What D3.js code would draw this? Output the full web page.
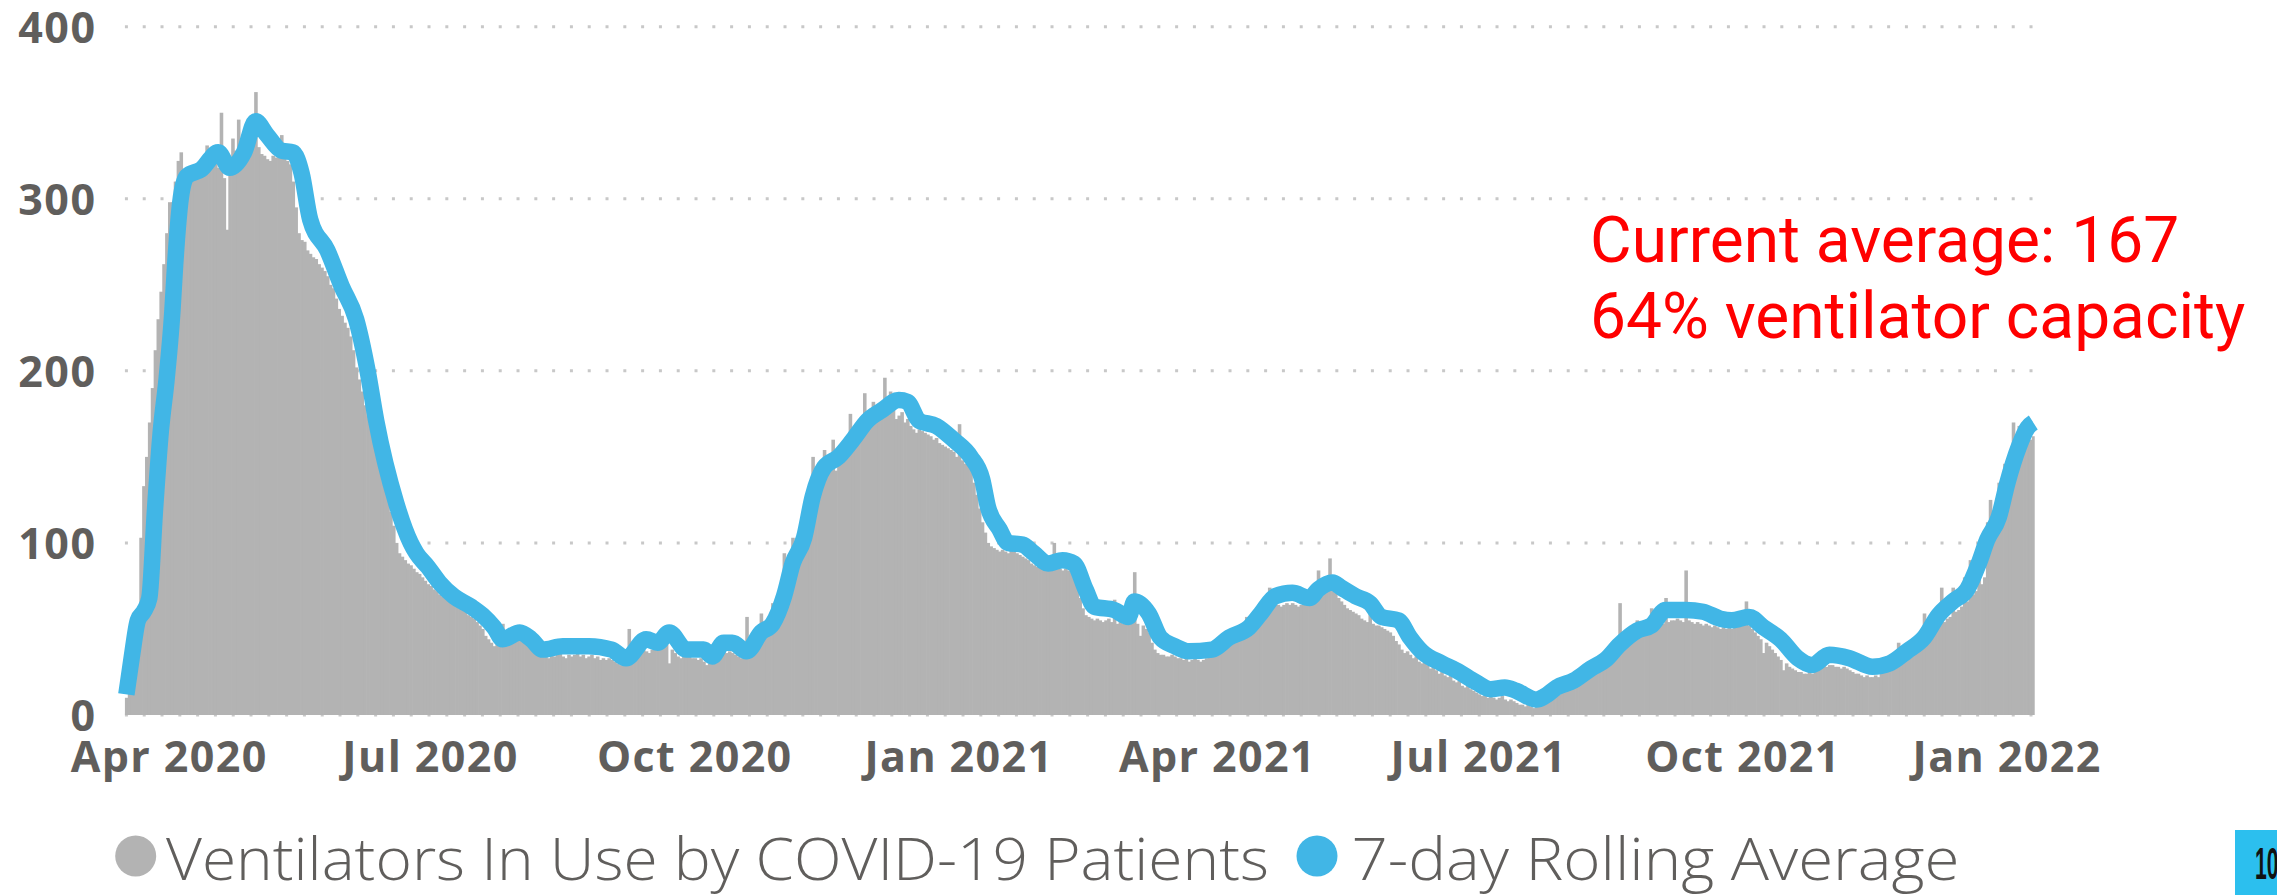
<!DOCTYPE html>
<html><head><meta charset="utf-8">
<script src="https://cdn.jsdelivr.net/npm/d3@7"></script>
<style>
html,body{margin:0;padding:0;background:#fff;overflow:hidden;}
svg{display:block;}
</style></head><body>
<svg id="chart" width="2277" height="895"></svg>
<script>
// ---------------- DATA ----------------
const startDate = "2020-03-17";   // first daily bar
const ventilatorsInUse = [
  // Mar 2020 (17-31)
  10,15,51,55,60,103,133,150,170,190,212,230,246,262,280,
  // Apr 2020
  298,298,310,322,327,308,312,313,315,312,316,314,318,331,318,320,322,318,350,312,282,322,335,328,346,330,328,333,338,335,
  // May 2020
  362,330,326,325,323,322,325,324,326,337,325,322,320,310,295,280,276,275,270,268,266,265,262,260,258,255,250,248,242,236,232,
  // Jun 2020
  228,225,220,212,202,195,188,180,174,168,160,152,145,140,133,125,118,110,100,94,92,90,88,87,85,83,82,80,78,76,
  // Jul 2020
  75,73,72,70,69,68,70,66,64,63,62,61,60,58,57,56,54,52,50,46,44,42,40,42,44,53,44,45,43,46,45,
  // Aug 2020
  45,44,42,41,38,37,35,34,35,34,33,35,34,35,36,34,33,35,34,35,36,34,35,33,34,35,33,34,32,33,32,
  // Sep 2020
  33,32,31,30,29,31,33,50,36,38,39,40,38,37,36,38,40,42,43,42,41,30,38,36,34,33,34,35,34,33,
  // Oct 2020
  33,32,33,31,29,30,33,35,36,37,38,36,37,36,35,34,33,34,57,36,40,42,44,59,45,47,50,65,62,68,75,
  // Nov 2020
  94,70,78,103,86,90,95,100,125,112,150,125,130,134,154,140,142,160,142,145,147,150,152,175,155,157,160,162,187,166,
  // Dec 2020
  178,182,176,174,175,196,176,188,178,172,174,176,170,172,168,166,164,166,165,164,163,162,160,161,158,157,156,155,154,153,150,
  // Jan 2021
  169,148,146,145,143,135,128,120,112,106,100,98,97,96,95,96,95,94,96,95,94,93,92,91,90,88,87,86,86,85,85,
  // Feb 2021
  86,87,100,86,85,84,85,84,83,80,75,68,62,58,57,56,55,56,55,54,55,56,54,67,53,54,53,54,
  // Mar 2021
  55,54,83,53,46,52,50,48,42,38,36,35,35,34,34,35,34,33,33,32,33,31,32,33,32,31,32,33,34,36,38,
  // Apr 2021
  39,40,42,43,44,45,46,48,50,52,57,53,55,56,58,65,62,63,74,64,65,64,63,64,65,64,65,64,63,64,
  // May 2021
  65,66,67,68,69,84,70,71,72,91,72,71,68,66,64,62,61,60,59,58,56,55,54,62,53,52,52,51,50,49,48,
  // Jun 2021
  46,43,41,38,36,37,35,33,34,31,30,31,29,27,28,26,24,25,23,22,23,20,19,20,17,16,17,15,14,13,
  // Jul 2021
  12,11,12,10,11,10,9,10,11,9,8,9,8,7,6,6,5,6,5,4,5,6,7,8,9,10,11,21,12,13,14,
  // Aug 2021
  15,16,17,18,19,20,21,22,24,25,26,27,28,29,31,33,35,38,65,42,44,45,46,47,55,48,49,50,51,62,53,
  // Sep 2021
  50,52,53,68,54,55,55,56,55,54,84,55,54,53,54,53,52,53,52,51,52,51,50,51,50,51,50,51,52,52,
  // Oct 2021
  53,66,52,50,48,46,44,36,42,40,38,36,34,32,26,30,28,27,26,25,25,24,24,25,24,26,27,28,29,28,29,
  // Nov 2021
  29,28,28,27,28,27,26,25,24,24,23,22,23,22,22,23,22,24,25,26,27,28,30,42,31,33,34,35,36,38,
  // Dec 2021
  40,42,59,44,46,48,50,52,74,54,56,57,74,60,61,63,80,66,90,70,72,100,76,80,112,125,100,106,135,118,146,
  // Jan 2022 (1-10)
  127,132,170,145,168,152,156,158,160,162
];

const avgDates = [
  "2020-03-17","2020-03-19","2020-03-21","2020-03-23","2020-03-25","2020-03-27","2020-03-29","2020-03-31","2020-04-02","2020-04-03",
  "2020-04-05","2020-04-07","2020-04-12","2020-04-18","2020-04-22","2020-04-27","2020-05-01","2020-05-05","2020-05-10","2020-05-14",
  "2020-05-17","2020-05-20","2020-05-26","2020-05-31","2020-06-05","2020-06-09","2020-06-12","2020-06-19","2020-06-24","2020-06-26",
  "2020-06-30","2020-07-04","2020-07-09","2020-07-15","2020-07-19","2020-07-23","2020-07-26","2020-08-01","2020-08-05","2020-08-09",
  "2020-08-16","2020-08-25","2020-09-02","2020-09-07","2020-09-14","2020-09-18","2020-09-22","2020-09-28","2020-10-04","2020-10-07",
  "2020-10-11","2020-10-14","2020-10-19","2020-10-24","2020-10-28","2020-11-01","2020-11-04","2020-11-08","2020-11-11","2020-11-15",
  "2020-11-20","2020-11-25","2020-11-30","2020-12-05","2020-12-11","2020-12-14","2020-12-18","2020-12-24","2020-12-30","2021-01-05",
  "2021-01-09","2021-01-11","2021-01-15","2021-01-18","2021-01-23","2021-01-27","2021-02-01","2021-02-06","2021-02-10","2021-02-14",
  "2021-02-17","2021-02-24","2021-03-01","2021-03-03","2021-03-08","2021-03-12","2021-03-17","2021-03-22","2021-03-30","2021-04-05",
  "2021-04-12","2021-04-16","2021-04-21","2021-04-27","2021-05-03","2021-05-06","2021-05-11","2021-05-14","2021-05-19","2021-05-24",
  "2021-05-28","2021-06-03","2021-06-07","2021-06-11","2021-06-18","2021-06-23","2021-06-30","2021-07-05","2021-07-10","2021-07-14",
  "2021-07-21","2021-07-24","2021-07-28","2021-08-03","2021-08-09","2021-08-14","2021-08-19","2021-08-25","2021-08-30","2021-09-04",
  "2021-09-11","2021-09-17","2021-09-23","2021-09-27","2021-10-03","2021-10-08","2021-10-14","2021-10-20","2021-10-25","2021-10-31",
  "2021-11-07","2021-11-15","2021-11-21","2021-11-27","2021-12-03","2021-12-08","2021-12-13","2021-12-18","2021-12-22","2021-12-25",
  "2021-12-29","2022-01-01","2022-01-05","2022-01-08","2022-01-10"
];
const avgValues = [
  12,35,55,60,68,120,165,195,234,262,
  301,313,317,327,318,327,345,337,328,327,
  315,288,270,249,230,200,171,123,100,94,
  86,77,69,63,58,51,44,48,44,38,
  40,40,38,33,44,42,48,38,38,34,
  42,42,37,48,53,69,88,103,127,144,
  150,160,171,177,183,182,171,168,160,150,
  137,121,108,100,99,94,88,90,88,73,
  63,61,57,66,59,45,40,37,38,45,
  51,59,69,71,68,73,77,74,69,65,
  57,55,45,37,30,26,19,15,16,14,
  9,11,16,20,27,32,41,49,52,61,
  61,60,56,55,57,51,44,33,29,35,
  33,28,30,37,45,58,66,73,88,102,
  115,135,156,167,170
];

const yTickValues = [0, 100, 200, 300, 400];
const xTickDates = ["2020-04-01","2020-07-01","2020-10-01","2021-01-01","2021-04-01","2021-07-01","2021-10-01","2022-01-01"];
const xTickLabels = ["Apr 2020","Jul 2020","Oct 2020","Jan 2021","Apr 2021","Jul 2021","Oct 2021","Jan 2022"];
const legendLabels = ["Ventilators In Use by COVID-19 Patients", "7-day Rolling Average"];
const annotationLines = ["Current average: 167", "64% ventilator capacity"];
const pageNumber = "10";

// ---------------- CHART ----------------
const parse = d3.utcParse("%Y-%m-%d");
const DAY = 864e5;
const svg = d3.select("#chart");

const x = d3.scaleUtc()
  .domain([parse("2020-04-01"), parse("2022-01-01")])
  .range([168, 2006]);
const y = d3.scaleLinear().domain([0, 400]).range([715, 26.7]);

const start = parse(startDate).getTime();
const bars = ventilatorsInUse.map((v, i) => ({ d0: new Date(start + i * DAY), d1: new Date(start + (i + 1) * DAY), v }));
const plotLeft = x(bars[0].d0);
const plotRight = x(bars[bars.length - 1].d1);

const GRID = "#c8c8c8", LABEL = "#605e5c", BAR = "#b3b3b3", LINE = "#41b6e6";

// gridlines (dotted)
svg.append("g").selectAll("line").data(yTickValues).join("line")
  .attr("x1", plotLeft).attr("x2", plotRight)
  .attr("y1", d => y(d)).attr("y2", d => y(d))
  .attr("stroke", GRID).attr("stroke-width", 3)
  .attr("stroke-dasharray", "3 14.8");

// bars (slight overlap so the area reads as solid)
svg.append("g").selectAll("rect").data(bars).join("rect")
  .attr("x", d => x(d.d0))
  .attr("width", (d, i) => x(d.d1) - x(d.d0) + (i < bars.length - 1 ? 0.7 : 0))
  .attr("y", d => y(d.v))
  .attr("height", d => y(0) - y(d.v))
  .attr("fill", BAR);

// rolling average line
const avg = avgDates.map((s, i) => ({ date: new Date(parse(s).getTime() + DAY / 2), v: avgValues[i] }));
svg.append("path").datum(avg)
  .attr("fill", "none").attr("stroke", LINE).attr("stroke-width", 16.5)
  .attr("stroke-linejoin", "round").attr("stroke-linecap", "butt")
  .attr("d", d3.line().x(d => x(d.date)).y(d => y(d.v)).curve(d3.curveMonotoneX));

// y axis labels
const yAxis = svg.append("g").attr("transform", "translate(96.5,0)")
  .call(d3.axisLeft(y).tickValues(yTickValues).tickSize(0).tickPadding(0).tickFormat(d3.format("d")));
yAxis.select(".domain").remove();
yAxis.selectAll("text")
  .attr("dy", "0.357em")
  .style("font-family", "'Open Sans', sans-serif").style("font-weight", 700)
  .style("font-size", "43px").style("letter-spacing", "1.5px").attr("fill", LABEL);

// x axis labels
const xAxis = svg.append("g").attr("transform", `translate(0,${y(0)})`)
  .call(d3.axisBottom(x).tickValues(xTickDates.map(parse)).tickSize(0).tickPadding(0)
    .tickFormat((d, i) => xTickLabels[i]));
xAxis.select(".domain").remove();
xAxis.selectAll("text")
  .attr("y", 57).attr("dy", "0").attr("x", 0.7)
  .style("font-family", "'Open Sans', sans-serif").style("font-weight", 700)
  .style("font-size", "43px").style("letter-spacing", "1.4px").attr("fill", LABEL);

// legend
const legend = svg.append("g");
const legendItems = [
  { label: legendLabels[0], color: BAR, cx: 135.7, tx: 166, len: 1103 },
  { label: legendLabels[1], color: LINE, cx: 1317, tx: 1351.5, len: 608 }
];
legend.selectAll("circle").data(legendItems).join("circle")
  .attr("cx", d => d.cx).attr("cy", 856).attr("r", 20.5).attr("fill", d => d.color);
legend.selectAll("text").data(legendItems).join("text")
  .attr("x", d => d.tx).attr("y", 880)
  .attr("textLength", d => d.len).attr("lengthAdjust", "spacingAndGlyphs")
  .style("font-family", "'Open Sans', sans-serif").style("font-weight", 300)
  .style("font-size", "58px").attr("fill", LABEL)
  .text(d => d.label);

// annotation
svg.append("g").selectAll("text").data(annotationLines).join("text")
  .attr("x", 1590).attr("y", (d, i) => 262 + i * 76)
  .style("font-family", "Roboto, sans-serif").style("font-size", "64px")
  .attr("fill", "#ff0000").text(d => d);

// page marker box
svg.append("rect").attr("x", 2235).attr("y", 830).attr("width", 42).attr("height", 65).attr("fill", "#2cbfee");
svg.append("text").attr("x", 0).attr("y", 0)
  .attr("transform", "translate(2255,879) scale(0.47,1)")
  .style("font-family", "'Liberation Sans', sans-serif").style("font-weight", 700)
  .style("font-size", "45px").attr("fill", "#111").text(pageNumber);
</script>
</body></html>
